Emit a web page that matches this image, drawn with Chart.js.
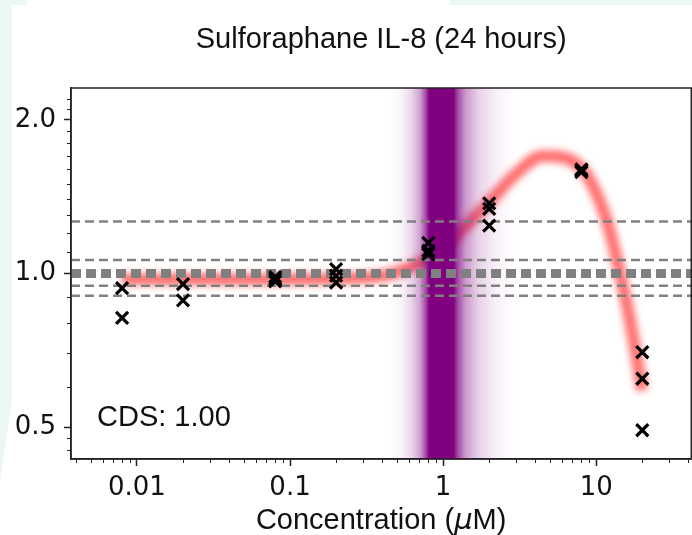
<!DOCTYPE html>
<html>
<head>
<meta charset="utf-8">
<script src="https://cdn.jsdelivr.net/npm/chart.js@4.4.0/dist/chart.umd.min.js"></script>
<style>
  html, body { margin: 0; padding: 0; background: #eaf7f5; overflow: hidden; }
  #page { width: 692px; height: 535px; overflow: hidden; }
  #box { width: 800px; height: 535px; }
  #chart { display: block; }
</style>
</head>
<body>
<div id="page"><div id="box"><canvas id="chart" width="692" height="535"></canvas></div></div>
<script>
// measured replicates (concentration in uM, relative response)
const pointConc = [0.008, 0.008, 0.02, 0.02, 0.08, 0.08, 0.08, 0.2, 0.2, 0.2,
                   0.8, 0.8, 0.8, 2, 2, 2, 8, 8, 8, 20, 20, 20];
const pointResp = [0.936, 0.819, 0.953, 0.886, 0.985, 0.975, 0.965, 1.02, 0.99, 0.96,
                   1.148, 1.108, 1.092, 1.373, 1.339, 1.241, 1.60, 1.59, 1.58, 0.701, 0.622, 0.493];

// fitted curve
const fitConc = [0.008, 0.05, 0.2, 0.4, 0.6, 0.8, 1.0, 1.3, 2, 3, 4.5, 6, 8, 10, 12, 14, 16, 18, 20];
const fitResp = [0.975, 0.975, 0.978, 0.99, 1.025, 1.07, 1.12, 1.21, 1.38, 1.57, 1.70, 1.69, 1.61, 1.44, 1.24, 1.03, 0.86, 0.71, 0.59];

// horizontal reference lines
const refThin = [1.264, 1.063, 0.946, 0.905];
const refThick = [1.0];

// purple band (concentration, opacity)
const bandConc = [0.45, 0.54, 0.62, 0.7, 0.77, 0.81, 1.17, 1.25, 1.4, 1.7, 2.2, 2.9];
const bandAlpha = [0, 0.05, 0.16, 0.35, 0.7, 1, 1, 0.7, 0.4, 0.18, 0.06, 0];

// axes
const X_MIN = 0.00371, X_MAX = 41.8;
const Y_MIN = 0.433, Y_MAX = 2.31;
const xMajor = [0.01, 0.1, 1, 10];
const xMajorLabels = ['0.01', '0.1', '1', '10'];
const yMajor = [0.5, 1.0, 2.0];
const yMajorLabels = ['0.5', '1.0', '2.0'];
const xMinor = [0.004, 0.005, 0.006, 0.007, 0.008, 0.009, 0.02, 0.03, 0.04, 0.05, 0.06, 0.07, 0.08, 0.09,
                0.2, 0.3, 0.4, 0.5, 0.6, 0.7, 0.8, 0.9, 2, 3, 4, 5, 6, 7, 8, 9, 20, 30, 40];
const yMinor = [0.45, 0.475, 0.6, 0.7, 0.8, 0.9, 1.1, 1.2, 1.3, 1.4, 1.5, 1.6, 1.7, 1.8, 1.9, 2.1, 2.2];

const titleText = 'Sulforaphane IL-8 (24 hours)';
const scoreText = 'CDS: 1.00';

// wanted plot box on the page
const AREA = { left: 71, top: 88, right: 691, bottom: 459 };

const TICK_FONT = { family: '"DejaVu Sans"', size: 26 };
const TEXT_FONT = '29px "Liberation Sans"';
const AXIS_COLOR = '#222';

const datasets = [];
datasets.push({
  label: 'fit',
  type: 'line',
  data: fitConc.map((c, i) => ({ x: c, y: fitResp[i] })),
  borderColor: 'rgba(255, 55, 55, 0.72)',
  borderWidth: 12,
  pointRadius: 0,
  cubicInterpolationMode: 'monotone',
  order: 10
});
refThin.forEach(v => datasets.push({
  type: 'line',
  data: [{ x: X_MIN, y: v }, { x: X_MAX, y: v }],
  borderColor: '#808080',
  borderWidth: 2.5,
  borderDash: [9, 5],
  pointRadius: 0,
  order: 5
}));
refThick.forEach(v => datasets.push({
  type: 'line',
  data: [{ x: X_MIN, y: v }, { x: X_MAX, y: v }],
  borderColor: '#808080',
  borderWidth: 9,
  borderDash: [10, 5],
  pointRadius: 0,
  order: 5
}));
datasets.push({
  type: 'scatter',
  data: pointConc.map((c, i) => ({ x: c, y: pointResp[i] })),
  pointStyle: 'crossRot',
  pointRadius: 8.5,
  borderColor: '#000',
  backgroundColor: '#000',
  borderWidth: 3.2,
  order: 1
});

// white figure area over the teal page
const backdrop = {
  id: 'backdrop',
  beforeDraw(chart) {
    const ctx = chart.ctx;
    ctx.save();
    ctx.fillStyle = '#eaf7f5';
    ctx.fillRect(0, 0, chart.width, chart.height);
    ctx.fillStyle = '#fff';
    ctx.beginPath();
    ctx.moveTo(12, 5);
    ctx.lineTo(chart.width, 5);
    ctx.lineTo(chart.width, chart.height);
    ctx.lineTo(0, chart.height);
    ctx.lineTo(0, 480);
    ctx.lineTo(12, 400);
    ctx.closePath();
    ctx.fill();
    ctx.fillRect(27, 0, 423, 6);
    ctx.restore();
  }
};

// blurred fit line, then the purple band on top of it
const glow = {
  id: 'glow',
  beforeDatasetDraw(chart, args) {
    if (chart.data.datasets[args.index].label === 'fit') {
      chart.ctx.save();
      chart.ctx.filter = 'blur(3.5px)';
    }
  },
  afterDatasetDraw(chart, args) {
    if (chart.data.datasets[args.index].label !== 'fit') return;
    const ctx = chart.ctx;
    ctx.restore();
    const xs = chart.scales.x, a = chart.chartArea;
    const x0 = xs.getPixelForValue(bandConc[0]);
    const x1 = xs.getPixelForValue(bandConc[bandConc.length - 1]);
    const g = ctx.createLinearGradient(x0, 0, x1, 0);
    bandConc.forEach((c, i) => {
      const p = (xs.getPixelForValue(c) - x0) / (x1 - x0);
      g.addColorStop(p, `rgba(128, 0, 128, ${bandAlpha[i]})`);
    });
    ctx.save();
    ctx.beginPath();
    ctx.rect(a.left, a.top, a.right - a.left, a.bottom - a.top);
    ctx.clip();
    ctx.fillStyle = g;
    ctx.fillRect(x0, a.top, x1 - x0, a.bottom - a.top);
    ctx.restore();
  }
};

// frame, minor ticks and the texts
const decor = {
  id: 'decor',
  afterDraw(chart) {
    const ctx = chart.ctx, a = chart.chartArea;
    const xs = chart.scales.x, ys = chart.scales.y;
    ctx.save();
    ctx.strokeStyle = AXIS_COLOR;
    ctx.lineWidth = 1.5;
    ctx.strokeRect(a.left, a.top, a.right - a.left, a.bottom - a.top);
    ctx.lineWidth = 1;
    ctx.beginPath();
    yMinor.forEach(v => {
      const y = Math.round(ys.getPixelForValue(v)) + 0.5;
      ctx.moveTo(a.left - 4, y); ctx.lineTo(a.left, y);
    });
    xMinor.forEach(v => {
      const x = Math.round(xs.getPixelForValue(v)) + 0.5;
      if (x < a.left || x > a.right) return;
      ctx.moveTo(x, a.bottom); ctx.lineTo(x, a.bottom + 4);
    });
    ctx.stroke();

    const cx = (a.left + a.right) / 2;
    ctx.fillStyle = '#111';
    ctx.textBaseline = 'middle';
    ctx.textAlign = 'center';
    ctx.font = TEXT_FONT;
    ctx.fillText(titleText, cx, 40);

    // x label with italic mu
    const parts = [['Concentration (', 'normal'], ['\u03bc', 'italic'], ['M)', 'normal']];
    const fontOf = s => (s === 'italic' ? 'italic 29px "DejaVu Sans"' : TEXT_FONT);
    let total = 0;
    parts.forEach(p => { ctx.font = fontOf(p[1]); total += ctx.measureText(p[0]).width; });
    let x = cx - total / 2;
    ctx.textAlign = 'left';
    parts.forEach(p => {
      ctx.font = fontOf(p[1]);
      ctx.fillText(p[0], x, 521);
      x += ctx.measureText(p[0]).width;
    });

    ctx.font = TEXT_FONT;
    ctx.fillText(scoreText, 97, 418);
    ctx.restore();
  }
};

const chart = new Chart(document.getElementById('chart'), {
  data: { datasets },
  options: {
    responsive: false,
    maintainAspectRatio: false,
    devicePixelRatio: 1,
    animation: false,
    layout: { padding: { top: 88, right: 1, left: 0, bottom: 0 } },
    plugins: { legend: { display: false }, tooltip: { enabled: false } },
    scales: {
      x: {
        type: 'logarithmic',
        min: X_MIN, max: X_MAX,
        afterBuildTicks: s => { s.ticks = xMajor.map(v => ({ value: v })); },
        afterFit: s => { s.height = 76; },
        ticks: {
          autoSkip: false, maxRotation: 0, padding: 7, color: '#111', font: TICK_FONT,
          callback: v => xMajorLabels[xMajor.indexOf(v)]
        },
        grid: { drawOnChartArea: false, tickLength: 7, tickWidth: 1.5, tickColor: AXIS_COLOR },
        border: { color: AXIS_COLOR, width: 1.5 }
      },
      y: {
        type: 'logarithmic',
        min: Y_MIN, max: Y_MAX,
        afterBuildTicks: s => { s.ticks = yMajor.map(v => ({ value: v })); },
        afterFit: s => { s.width = 71; },
        ticks: {
          autoSkip: false, padding: 8, color: '#111', font: TICK_FONT,
          callback: v => yMajorLabels[yMajor.indexOf(v)]
        },
        grid: { drawOnChartArea: false, tickLength: 7, tickWidth: 1.5, tickColor: AXIS_COLOR },
        border: { color: AXIS_COLOR, width: 1.5 }
      }
    }
  },
  plugins: [backdrop, glow, decor]
});

// Chart.js keeps a strip free on the right; widen the canvas (the page clips it) until the box fits
for (let k = 0; k < 3; k++) {
  const diff = AREA.right - chart.chartArea.right;
  if (Math.abs(diff) < 0.3) break;
  chart.resize(Math.round(chart.width + diff), 535);
}
</script>
</body>
</html>
